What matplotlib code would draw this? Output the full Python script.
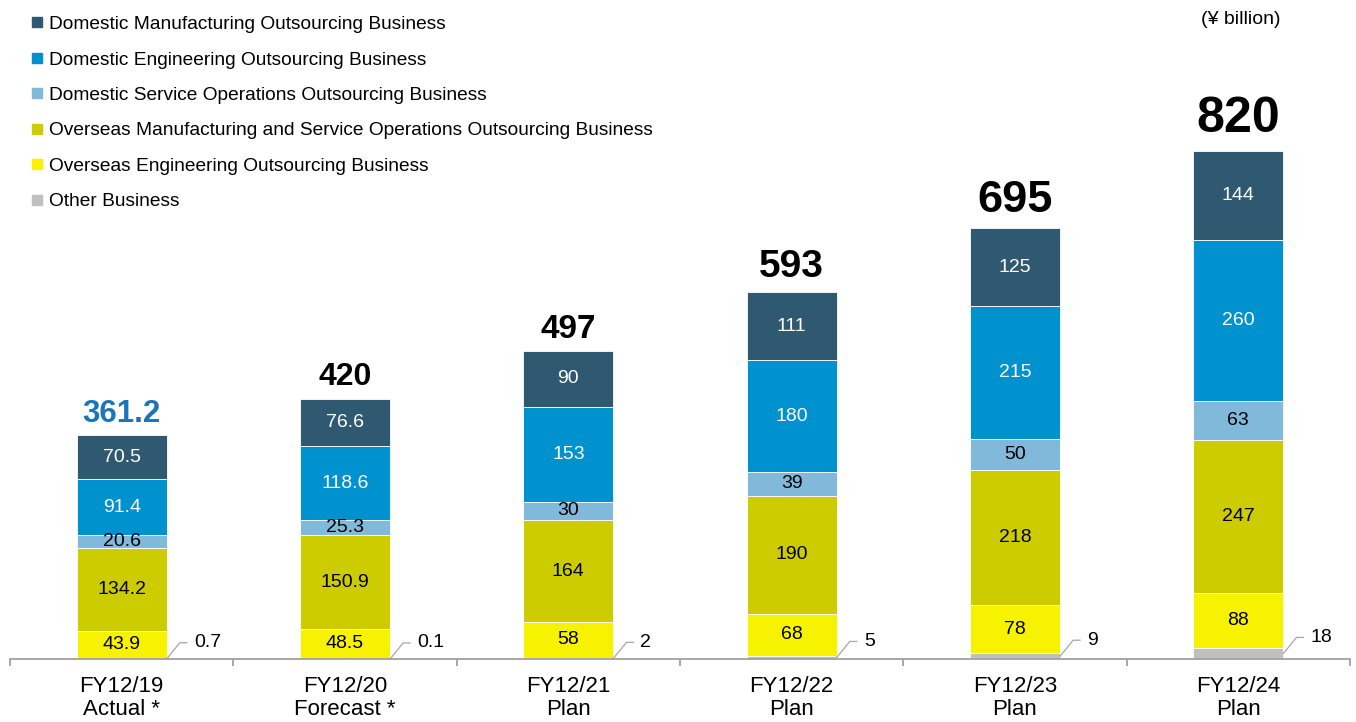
import matplotlib
matplotlib.use("Agg")
import matplotlib.pyplot as plt
from matplotlib.lines import Line2D
import numpy as np

plt.rcParams['font.family'] = ['Liberation Sans', 'DejaVu Sans']

categories = ["FY12/19\nActual *", "FY12/20\nForecast *", "FY12/21\nPlan",
              "FY12/22\nPlan", "FY12/23\nPlan", "FY12/24\nPlan"]
other = [0.7, 0.1, 2, 5, 9, 18]
overseas_eng = [43.9, 48.5, 58, 68, 78, 88]
overseas_mfg = [134.2, 150.9, 164, 190, 218, 247]
dom_service = [20.6, 25.3, 30, 39, 50, 63]
dom_eng = [91.4, 118.6, 153, 180, 215, 260]
dom_mfg = [70.5, 76.6, 90, 111, 125, 144]
totals = ["361.2", "420", "497", "593", "695", "820"]

other_lbl = ["0.7", "0.1", "2", "5", "9", "18"]
oe_lbl = ["43.9", "48.5", "58", "68", "78", "88"]
om_lbl = ["134.2", "150.9", "164", "190", "218", "247"]
ds_lbl = ["20.6", "25.3", "30", "39", "50", "63"]
de_lbl = ["91.4", "118.6", "153", "180", "215", "260"]
dm_lbl = ["70.5", "76.6", "90", "111", "125", "144"]

series = [
    ("Other Business", other, other_lbl, "#C0C0C0", None),
    ("Overseas Engineering Outsourcing Business", overseas_eng, oe_lbl, "#F7F200", "black"),
    ("Overseas Manufacturing and Service Operations Outsourcing Business", overseas_mfg, om_lbl, "#CCCC00", "black"),
    ("Domestic Service Operations Outsourcing Business", dom_service, ds_lbl, "#80B9DA", "black"),
    ("Domestic Engineering Outsourcing Business", dom_eng, de_lbl, "#0092CF", "white"),
    ("Domestic Manufacturing Outsourcing Business", dom_mfg, dm_lbl, "#2F5871", "white"),
]

fig = plt.figure(figsize=(13.56, 7.22), dpi=100)
ax = fig.add_axes([10 / 1356, 63 / 722, 1340 / 1356, 659 / 722])

x = np.arange(len(categories))
width = 0.404
px_per_unit = 0.6195
ymax = 659 / px_per_unit

bottom = np.zeros(len(categories))
seg_fs = 14
for name, vals, lbls, color, tcol in series:
    vals = np.array(vals, dtype=float)
    ax.bar(x, vals, width, bottom=bottom, color=color, edgecolor="white",
           linewidth=0.6, label=name)
    if tcol is not None:
        for i in range(len(x)):
            ax.text(x[i], bottom[i] + vals[i] / 2, lbls[i], ha="center",
                    va="center", color=tcol, fontsize=seg_fs)
    else:
        # leader lines for small values
        dx = 13 / 223
        dy = 16 / px_per_unit
        hx = 7 / 223
        for i in range(len(x)):
            x0 = x[i] + width / 2
            y0 = bottom[i] + vals[i] / 2
            ax.plot([x0, x0 + dx, x0 + dx + hx], [y0, y0 + dy, y0 + dy],
                    color="#A6A6A6", lw=0.9, clip_on=False)
            ax.text(x0 + dx + hx + 7 / 223, y0 + dy, lbls[i], ha="left",
                    va="center", color="black", fontsize=seg_fs)
    bottom = bottom + vals

tot_fs = [22.5, 23, 24, 28, 32.5, 36]
tot_off = [13, 14, 13, 15, 16, 19]
tot_col = ["#1B75BC", "black", "black", "black", "black", "black"]
for i in range(len(x)):
    ax.text(x[i], bottom[i] + tot_off[i] / px_per_unit, totals[i], ha="center",
            va="baseline", fontsize=tot_fs[i], fontweight="bold", color=tot_col[i])

ax.set_xlim(-0.5, len(categories) - 0.5)
ax.set_ylim(0, ymax)
for s in ["top", "right", "left"]:
    ax.spines[s].set_visible(False)
ax.spines["bottom"].set_color("#A0A0A0")
ax.spines["bottom"].set_linewidth(1.3)
ax.set_yticks([])
ax.set_xticks(np.arange(-0.5, len(categories), 1.0))
ax.set_xticklabels([])
ax.tick_params(axis="x", which="major", direction="out", length=5,
               color="#A0A0A0", width=1.3)
ax.set_xticks(x, minor=True)
ax.set_xticklabels(categories, minor=True, fontsize=16, linespacing=1.15)
ax.tick_params(axis="x", which="minor", length=0, pad=12)

handles = []
labels = []
for name, vals, lbls, color, tcol in series[::-1]:
    handles.append(Line2D([0], [0], marker="s", linestyle="none",
                          markerfacecolor=color, markeredgecolor=color, markersize=7.5))
    labels.append(name)
fig.legend(handles, labels, loc="upper left", bbox_to_anchor=(22 / 1356, 1 - 8 / 722),
           frameon=False, fontsize=13.8, handlelength=0.8, handletextpad=0.2,
           labelspacing=0.94, borderaxespad=0)

fig.text(1241 / 1356, 1 - 20 / 722, "(¥ billion)", ha="center", va="center", fontsize=14)

fig.savefig("out.png", dpi=100)
